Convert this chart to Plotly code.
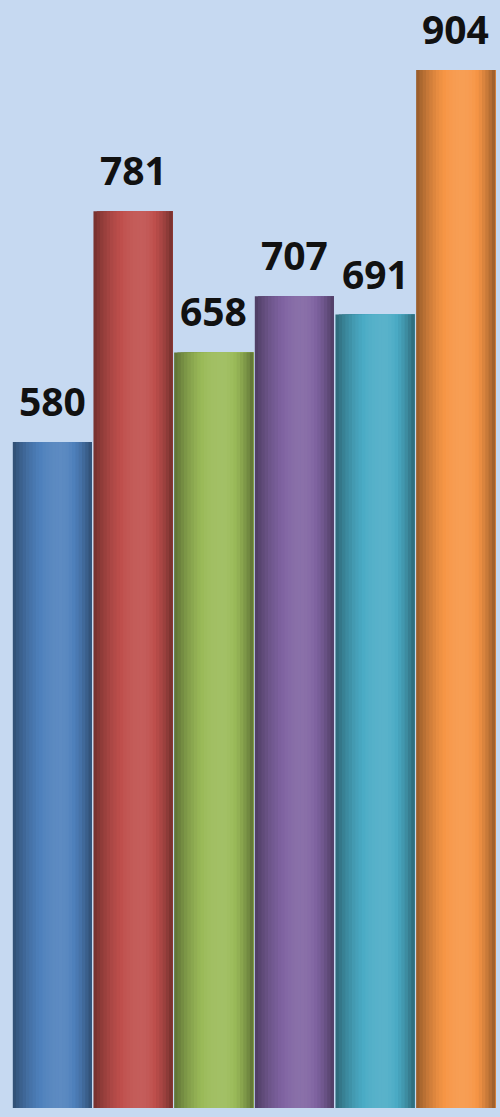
import plotly.graph_objects as go

# data
values = [580, 781, 658, 707, 691, 904]
labels = ["580", "781", "658", "707", "691", "904"]
colors = ["#4f81bd", "#c0504d", "#9bbb59", "#8064a2", "#4bacc6", "#f79646"]

background = "#c6d9f1"
n_strips = 24
bar_w = 0.98


def hex_rgb(h):
    h = h.lstrip("#")
    return [int(h[i:i + 2], 16) for i in (0, 2, 4)]


def shade(h, t):
    # cylinder look: dark edges, highlight a bit right of centre
    peak = 0.6
    u = (t - peak) / peak if t < peak else (t - peak) / (1 - peak)
    f = 0.6 + 0.48 * (1 - u * u)
    r, g, b = hex_rgb(h)
    if f <= 1:
        c = [v * f for v in (r, g, b)]
    else:
        k = f - 1
        c = [v + (255 - v) * k for v in (r, g, b)]
    return "rgb({},{},{})".format(*[int(max(0, min(255, v))) for v in c])


x = list(range(len(values)))
fig = go.Figure()

# each strip runs from its start to the right edge of the bar,
# later strips paint over earlier ones so no seams show
step = bar_w / n_strips
for i in range(n_strips):
    t = (i + 0.5) / n_strips
    fig.add_trace(go.Bar(
        x=x, y=values,
        width=bar_w - i * step,
        offset=-bar_w / 2 + i * step,
        marker=dict(color=[shade(c, t) for c in colors], line=dict(width=0)),
        hoverinfo="skip", showlegend=False))

annotations = []
for xi, v, lab in zip(x, values, labels):
    annotations.append(dict(
        x=xi, y=v, text="<b>" + lab + "</b>", showarrow=False,
        yanchor="bottom", yshift=13,
        font=dict(family="Open Sans", size=39, color="#111111")))

fig.update_layout(
    width=500, height=1117,
    margin=dict(l=12, r=4, t=0, b=9),
    paper_bgcolor=background, plot_bgcolor=background,
    barmode="overlay",
    annotations=annotations,
    xaxis=dict(range=[-0.5, 5.5], visible=False, fixedrange=True),
    yaxis=dict(range=[0, 965], visible=False, fixedrange=True),
)

fig.write_html("out.html", config={"displayModeBar": False},
               post_script="document.body.style.margin='0';")
